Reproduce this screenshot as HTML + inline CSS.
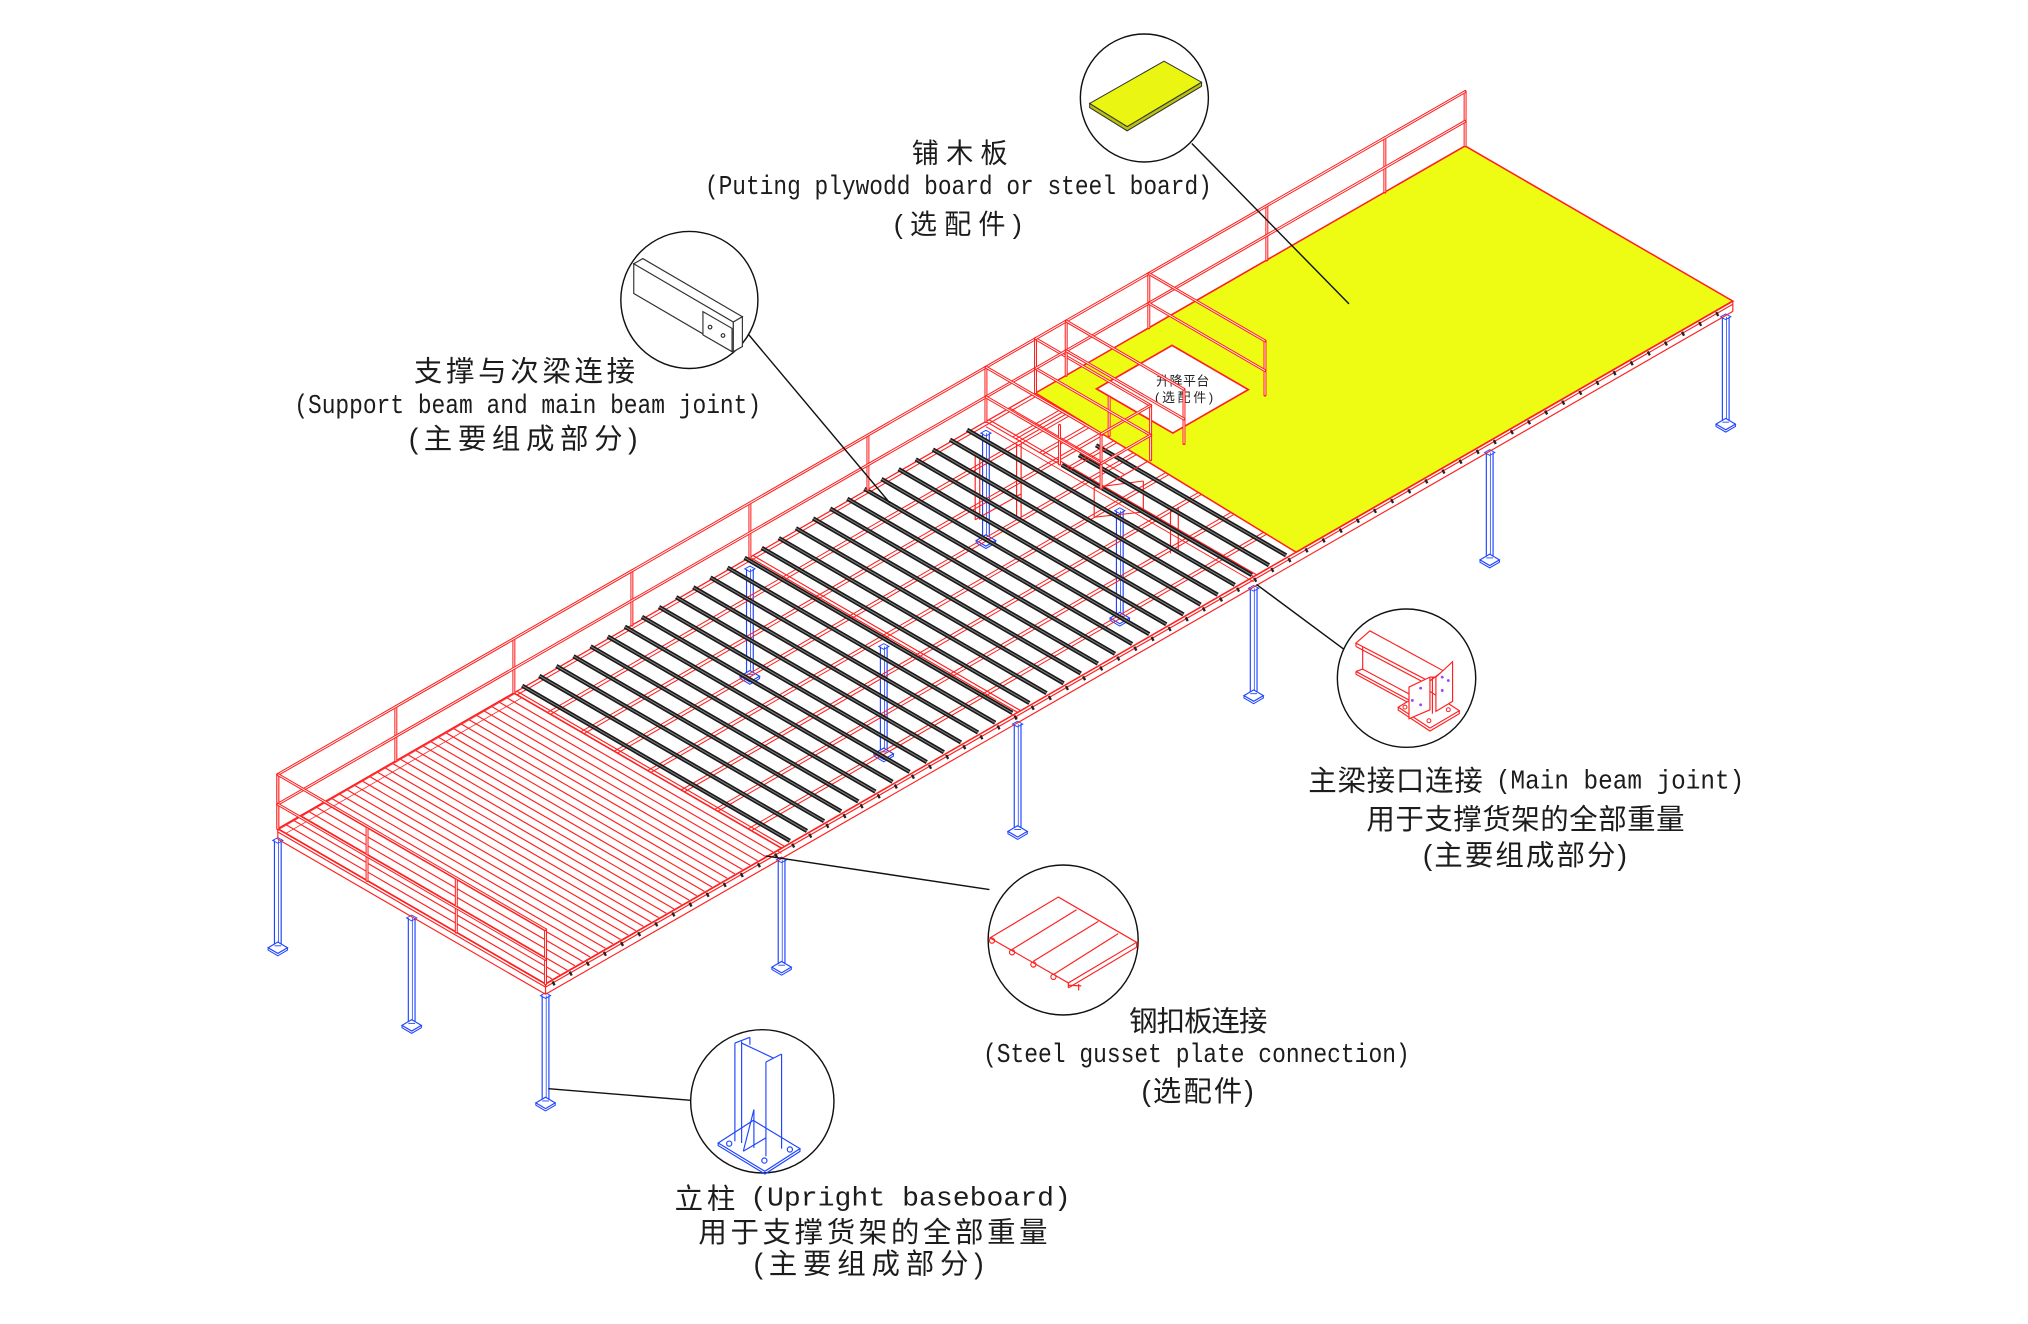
<!DOCTYPE html>
<html>
<head>
<meta charset="utf-8">
<style>
html,body{margin:0;padding:0;background:#fff;}
svg{display:block;}
.t{fill:#1c1c1c;}
.cn{font-family:"Liberation Sans","Noto Sans CJK SC",sans-serif;}
.en{font-family:"Liberation Mono","Noto Sans CJK SC",monospace;}
</style>
</head>
<body>
<svg id="s" width="2028" height="1324" viewBox="0 0 1568 1024" preserveAspectRatio="none" xmlns="http://www.w3.org/2000/svg">
<rect x="0" y="0" width="1568" height="1024" fill="#fff"/>
<g id="struct"></g>

<g id="anno" fill="none" stroke="#111" stroke-width="1.1">
  <line x1="921.5" y1="111" x2="1043" y2="235"/>
  <line x1="579" y1="259" x2="688" y2="389"/>
  <line x1="971.5" y1="452" x2="1039.5" y2="502.5"/>
  <line x1="592" y1="662" x2="765" y2="688"/>
  <line x1="424" y1="842" x2="534" y2="851"/>
  <circle cx="884.8" cy="75.8" r="49.5" fill="#fff"/>
  <circle cx="533" cy="232" r="53" fill="#fff"/>
  <circle cx="1087.5" cy="524.5" r="53.5" fill="#fff"/>
  <circle cx="822" cy="727" r="58" fill="#fff"/>
  <circle cx="589.4" cy="851.8" r="55.4" fill="#fff"/>
</g>

<g stroke="#333" stroke-width="0.8">
  <polygon points="842.5,80 871.5,97.9 929,63.6 929,66.8 871.5,101.2 842.5,83.2" fill="#b9c20c"/>
  <polygon points="842.5,80 900,47.3 929,63.6 871.5,97.9" fill="#eaf512"/>
</g>

<g stroke="#333" stroke-width="0.9" fill="#fff">
  <polygon points="490,204 567,249 567,272 490,227"/>
  <polygon points="490,204 497,200 574,245 567,249"/>
  <polygon points="567,249 574,245 574,268 567,272"/>
  <polygon points="543.5,241 566,254 566,272 543.5,259"/>
  <circle cx="549" cy="253" r="1.4"/>
  <circle cx="559" cy="259.5" r="1.4"/>
</g>

<g stroke="#ff2020" stroke-width="0.9" fill="none">
  <polygon points="1048.4,497.4 1059.2,487.9 1115.9,518.8 1105.1,527" fill="#fff"/>
  <line x1="1048.4" y1="497.4" x2="1048.4" y2="500"/>
  <line x1="1048.4" y1="500" x2="1105.1" y2="530"/>
  <line x1="1053.6" y1="500" x2="1053.6" y2="518"/>
  <line x1="1048.4" y1="519.3" x2="1089" y2="541.2"/>
  <line x1="1048.4" y1="519.3" x2="1053.6" y2="517.5"/>
  <line x1="1048.4" y1="519.3" x2="1048.4" y2="521.5"/>
  <line x1="1048.4" y1="521.5" x2="1089" y2="543.5"/>
  <line x1="1053.6" y1="517.5" x2="1090" y2="537"/>
  <polygon points="1081.1,546.9 1103.8,533.5 1128.3,549.7 1105.6,563.1" fill="#fff"/>
  <polyline points="1081.1,546.9 1081.1,549.2 1105.6,565.4 1128.3,552 1128.3,549.7"/>
  <polygon points="1089.4,531.4 1105.6,523.7 1105.6,549 1089.4,555.9" fill="#fff"/>
  <polygon points="1110.2,523.7 1123.1,511.8 1123.1,542.5 1110.2,550.2" fill="#fff"/>
  <line x1="1105.6" y1="523.7" x2="1110.2" y2="523.7"/>
  <line x1="1107.5" y1="524" x2="1107.5" y2="552"/>
</g>
<g fill="#a040ff">
  <circle cx="1098.4" cy="532.2" r="1.1"/><circle cx="1092" cy="541.7" r="1.1"/><circle cx="1098.4" cy="545.1" r="1.1"/>
  <circle cx="1115.1" cy="523.7" r="1.1"/><circle cx="1119.8" cy="526.3" r="1.1"/><circle cx="1115.1" cy="534" r="1.1"/>
</g>
<g fill="none" stroke="#ff2020" stroke-width="0.8">
  <circle cx="1086.3" cy="546.9" r="1.5"/><circle cx="1104.8" cy="557.4" r="1.5"/><circle cx="1119.8" cy="548.9" r="1.5"/>
</g>

<g stroke="#ff2020" stroke-width="0.9" fill="none">
  <polygon points="765.4,725.4 818.3,693.8 878.8,728.8 826,760.2"/>
  <line x1="832.4" y1="703.6" x2="782.2" y2="734.5"/>
  <line x1="849.2" y1="712.6" x2="798.9" y2="743.5"/>
  <line x1="864.6" y1="722.1" x2="814.4" y2="753.8"/>
  <polyline points="878.8,728.8 878.8,732.6 826,764"/>
  <line x1="826" y1="760.2" x2="826" y2="764"/>
  <line x1="826" y1="762" x2="836" y2="762.5"/>
  <circle cx="767" cy="727.5" r="2"/><circle cx="782.5" cy="736.5" r="2"/>
  <circle cx="799" cy="746" r="2"/><circle cx="814.5" cy="755.5" r="2"/>
  <line x1="834" y1="761" x2="834" y2="766"/>
</g>

<g stroke="#1f45ff" stroke-width="0.9" fill="none">
  <polygon points="555.3,884 582.4,866.5 618.5,888.4 591.4,905.9" fill="#fff"/>
  <polyline points="555.3,884 555.3,886 591.4,908 618.5,890.5 618.5,888.4"/>
  <circle cx="563.8" cy="884.5" r="2"/><circle cx="610.7" cy="889" r="2"/><circle cx="591" cy="897.6" r="2"/>
  <line x1="568.2" y1="806.7" x2="568.2" y2="882.7"/>
  <line x1="573.4" y1="805.4" x2="573.4" y2="884"/>
  <line x1="568.2" y1="806.7" x2="579.8" y2="802.3"/>
  <line x1="579.8" y1="802.3" x2="579.8" y2="808"/>
  <line x1="573.4" y1="806.7" x2="597.9" y2="818.3"/>
  <line x1="592.2" y1="821.4" x2="592.2" y2="894.3"/>
  <line x1="604.3" y1="815.2" x2="604.3" y2="888.4"/>
  <line x1="592.2" y1="821.4" x2="604.3" y2="815.2"/>
  <line x1="574.7" y1="890.4" x2="582.9" y2="858.2"/>
  <line x1="582.9" y1="858.2" x2="582.9" y2="887.8"/>
  <line x1="574.7" y1="890.4" x2="592.2" y2="880"/>
</g>

<g class="t">
  <text class="cn" x="705" y="125.5" font-size="21" textLength="74" lengthAdjust="spacing">铺木板</text>
  <text class="en" x="545" y="150" font-size="21" textLength="392" lengthAdjust="spacingAndGlyphs">(Puting plywodd board or steel board)</text>
  <text class="cn" x="691" y="180.5" font-size="21" textLength="99" lengthAdjust="spacing">(选配件)</text>

  <text class="cn" x="320" y="294.5" font-size="22" textLength="171" lengthAdjust="spacing">支撑与次梁连接</text>
  <text class="en" x="227.5" y="319.5" font-size="21" textLength="361" lengthAdjust="spacingAndGlyphs">(Support beam and main beam joint)</text>
  <text class="cn" x="316" y="347" font-size="22" textLength="177" lengthAdjust="spacing">(主要组成部分)</text>

  <text class="cn" x="1011.5" y="611.5" font-size="22" textLength="135" lengthAdjust="spacing">主梁接口连接</text>
  <text class="en" x="1156.6" y="610" font-size="21" textLength="192" lengthAdjust="spacingAndGlyphs">(Main beam joint)</text>
  <text class="cn" x="1056.5" y="641" font-size="22" textLength="246" lengthAdjust="spacing">用于支撑货架的全部重量</text>
  <text class="cn" x="1100" y="669" font-size="22" textLength="158" lengthAdjust="spacing">(主要组成部分)</text>

  <text class="cn" x="873" y="797.5" font-size="22" textLength="107" lengthAdjust="spacing">钢扣板连接</text>
  <text class="en" x="760" y="821.5" font-size="21" textLength="330" lengthAdjust="spacingAndGlyphs">(Steel gusset plate connection)</text>
  <text class="cn" x="882.5" y="851.5" font-size="22" textLength="87" lengthAdjust="spacing">(选配件)</text>

  <text class="cn" x="521.6" y="934.5" font-size="22" textLength="47" lengthAdjust="spacing">立柱</text>
  <text class="en" x="580" y="932.5" font-size="21" textLength="248" lengthAdjust="spacingAndGlyphs">(Upright baseboard)</text>
  <text class="cn" x="540" y="960.5" font-size="22" textLength="270" lengthAdjust="spacing">用于支撑货架的全部重量</text>
  <text class="cn" x="582.6" y="985" font-size="22" textLength="178" lengthAdjust="spacing">(主要组成部分)</text>
</g>

<script>
(function(){
var NS="http://www.w3.org/2000/svg";
var G=document.getElementById('struct');
function el(tag,attrs){var e=document.createElementNS(NS,tag);for(var k in attrs)e.setAttribute(k,attrs[k]);G.appendChild(e);return e;}
var O=[214.8,641],LV=[182.5,-105],WV=[207,120];
function P(t,w,z){z=z||0;return [O[0]+t*LV[0]+w*WV[0],O[1]+t*LV[1]+w*WV[1]-z];}
function f(v){return v.toFixed(2);}
function ln(a,b,c,sw,cap){return el('line',{x1:f(a[0]),y1:f(a[1]),x2:f(b[0]),y2:f(b[1]),stroke:c,'stroke-width':sw,'stroke-linecap':cap||'butt'});}
function pg(pts,fill,stroke,sw){return el('polygon',{points:pts.map(function(p){return f(p[0])+','+f(p[1]);}).join(' '),fill:fill,stroke:stroke||'none','stroke-width':sw||1});}
var RED='#ff2020',BLUE='#1f45ff',YEL='#eefc14';

function leg(t,w){
  var top=P(t,w,-9),bot=P(t,w,-92),x=top[0],y=bot[1];
  ln([x-2.6,top[1]],[x-2.6,y],BLUE,0.9);
  ln([x+2.6,top[1]],[x+2.6,y],BLUE,0.9);
  ln([x+0.5,top[1]],[x+0.5,y],BLUE,0.6);
  pg([[x-7.5,y],[x,y-4.4],[x+7.5,y],[x,y+4.4]],'#fff',BLUE,0.9);
  el('polyline',{points:(x-7.5)+','+y+' '+(x-7.5)+','+(y+1.8)+' '+x+','+(y+6.2)+' '+(x+7.5)+','+(y+1.8)+' '+(x+7.5)+','+y,fill:'none',stroke:BLUE,'stroke-width':0.8});
  ln([x-2.6,y-1.5],[x+2.6,y-1.5],BLUE,0.7);
  pg([[x-4,top[1]],[x,top[1]-2.2],[x+4,top[1]],[x,top[1]+2.2]],'none',BLUE,0.7);
}
[[2,0],[2,0.5],[3,0],[3,0.5],[0,0],[0,0.5],[0,1],[1,1],[2,1],[3,1],[4,1],[5,1]].forEach(function(a){leg(a[0],a[1]);});

var rows=[0.125,0.25,0.375,0.5,0.625,0.75,0.875];
rows.forEach(function(w){
  ln(P(1,w,0),P(3.2,w,0),RED,0.8);
  ln(P(1,w+0.012,0),P(3.2,w+0.012,0),RED,0.8);
});
[1,2,3].forEach(function(t){
  ln(P(t,0,0),P(t,1,0),RED,0.9);
  ln(P(t+0.013,0,0),P(t+0.013,1,0),RED,0.9);
  ln(P(t,0,-4),P(t,1,-4),RED,0.7);
});
ln(P(0,0,0),P(3.21,0,0),RED,1);
ln(P(0,0.012,0),P(3.21,0.012,0),RED,0.8);
[[754,352,402],[757.5,352,402],[786,343,400],[789.5,343,400],[846,377,400],[884,372,397],[905,392,428],[911,392,428]].forEach(function(v){ln([v[0],v[1]],[v[0],v[2]],RED,0.9);});
ln([754,402],[789.5,382],RED,0.9);
ln([846,377],[884,372],RED,0.8);
ln([846,400],[884,396],RED,0.8);
ln([884,396],[911,412],RED,0.8);

var tj0=1.035,dtj=0.0725,jts=[];
for(var i=0;i<40;i++){var t=tj0+i*dtj;if(t>3.19)break;jts.push(t);}
jts.forEach(function(t){
  var w0=(t>2.99)?0.29:0.0;
  var a=P(t,w0,2),b=P(t,1,2);
  ln(a,b,'#1a1a1a',3.3);
  ln(a,b,'#808080',0.8);
});

pg([P(0,0),P(1,0),P(1,1),P(0,1)],'#fff',RED,1.2);
for(var k=1;k<31;k++){var th=k/31;ln(P(th,0.004),P(th,0.996),RED,0.9);}
ln(P(0,0.03,0),P(1,0.03,0),RED,0.6);

[0.1,0.2,0.3].forEach(function(w){ln(P(3.0,w,0),P(3.21,w,0),RED,0.8);ln(P(3.0,w+0.012,0),P(3.21,w+0.012,0),RED,0.8);});
ln(P(3.1,0,0),P(3.1,0.43,0),RED,0.8);
ln(P(3.0,0.43,0),P(3.21,0.43,0),RED,0.9);

pg([P(3.21,0),P(5.03,0),P(5.03,1),P(3.18,1)],YEL,RED,1.2);
pg([P(3.355,0.10),P(3.675,0.10),P(3.675,0.385),P(3.355,0.385)],'#fff',RED,1.3);
var t1=el('text',{x:894,y:298,'font-size':10,textLength:41,lengthAdjust:'spacing','class':'cn',fill:'#222'});t1.textContent='升降平台';
var t2=el('text',{x:893,y:311,'font-size':10,textLength:45,lengthAdjust:'spacing','class':'cn',fill:'#222'});t2.textContent='(选配件)';

[0,-2.5,-8].forEach(function(z){
  ln(P(0,1,z),P(5.03,1,z),RED,z===0?1.2:0.9);
  ln(P(0,0,z),P(0,1,z),RED,z===0?1.2:0.9);
});
ln(P(0,0,0),P(0,0,-8),RED,0.9);
ln(P(0,1,0),P(0,1,-8),RED,0.9);
ln(P(5.03,1,0),P(5.03,1,-8),RED,0.9);
ln(P(0,0,-1),P(1,0,-1),RED,0.5);
for(var tm=0.03;tm<5.0;tm+=dtj){
  var m=P(tm,1,-1.2);ln([m[0],m[1]],[m[0]+1.5,m[1]+3],'#222',1.8);
}

function tube(a,b,sw){ln(a,b,RED,sw||2.3,'round');ln(a,b,'#fff',0.7);}
function post(t,w,h){tube(P(t,w,0),P(t,w,h));}
function rail(t1,w1,t2,w2,z){tube(P(t1,w1,z),P(t2,w2,z));}
var ZT=42,ZM=19;
for(var tp=0;tp<=3.001;tp+=0.5)post(tp,0,ZT);
[ZT,ZM].forEach(function(z){rail(0,0,3.21,0,z);});
[0,1/3,2/3,1].forEach(function(w){post(0,w,ZT);});
[ZT,ZM].forEach(function(z){rail(0,0,0,1,z);});
post(3,0.43,ZT);post(3.21,0.43,ZT);post(3,0.275,30);post(3.21,0.275,30);post(3.21,0,ZT);
[ZT,ZM].forEach(function(z){rail(3,0,3,0.43,z);rail(3.21,0,3.21,0.43,z);rail(3,0.43,3.21,0.43,z);});
[3.34,3.69,4.19,4.69,5.03].forEach(function(t){post(t,0,ZT);});
[ZT,ZM].forEach(function(z){rail(3.21,0,5.03,0,z);});
post(3.34,0.44,ZT);post(3.69,0.434,ZT);
[ZT,ZM].forEach(function(z){rail(3.34,0,3.34,0.44,z);rail(3.69,0,3.69,0.434,z);});
})();
</script>
</svg>
</body>
</html>
